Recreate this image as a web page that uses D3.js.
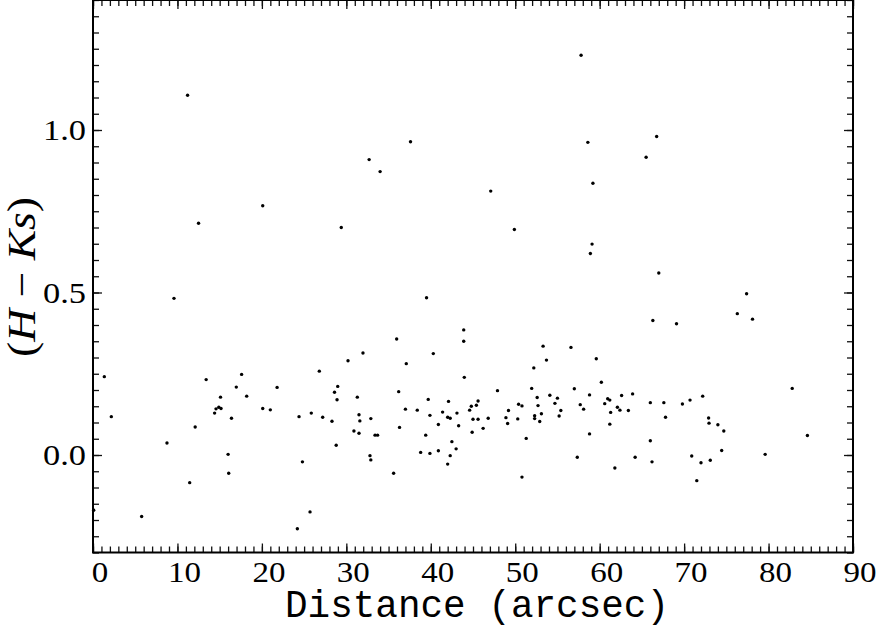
<!DOCTYPE html>
<html>
<head>
<meta charset="utf-8">
<script src="https://cdn.jsdelivr.net/npm/d3@7"></script>
<style>
  body { margin: 0; background: #fff; }
  svg { display: block; }
</style>
</head>
<body>
<script>
// distance from centre (arcsec) and H-Ks colour of each star
var distance = [
  9.59, 1.34, 13.4, 17.6, 16.97, 21.8, 18.2, 15.1, 14.9, 14.57, 15.16, 14.4, 20.1, 21.0, 2.17, 16.4, 12.1, 8.76, 16.0, 16.07, 11.45, 0.08, 5.76,
  39.5, 43.9, 43.9, 35.96, 31.97, 40.3, 30.2, 37.1, 26.8, 43.97, 28.98, 28.6, 28.9, 31.3, 36.2, 39.7, 42.1, 45.6, 45.4, 44.8, 44.6, 37.0, 38.4,
  41.4, 43.1, 39.9, 42.0, 42.3, 45.0, 45.6, 46.8, 24.4, 25.85, 27.2, 28.3, 31.5, 31.6, 32.9, 30.9, 31.5, 33.4, 33.7, 36.3, 40.9, 43.3, 44.9,
  46.2, 39.4, 28.8, 42.5, 43.0, 38.8, 39.9, 40.9, 42.3, 42.0, 32.8, 32.9, 24.8, 35.6, 25.7, 24.2,
  66.3, 69.1, 53.3, 56.6, 53.7, 59.6, 52.2, 60.2, 47.9, 51.95, 57.0, 52.6, 54.1, 55.0, 58.8, 62.6, 63.9, 60.95, 61.2, 60.6, 66.0, 67.6, 69.8,
  50.4, 50.8, 52.7, 54.7, 57.7, 49.2, 55.4, 58.1, 62.1, 62.4, 63.4, 61.3, 53.1, 55.2, 52.3, 48.9, 52.3, 50.3, 49.1, 52.9, 67.8, 61.2, 58.8,
  51.3, 66.0, 57.35, 64.2, 66.2, 61.8, 50.8,
  77.4, 76.3, 78.1, 82.8, 70.7, 72.2, 72.9, 72.95, 74.0, 74.7, 84.6, 74.45, 79.6, 70.9, 73.1, 72.0, 71.5,
  11.2, 37.6, 32.7, 34.0, 47.1, 20.1, 12.5, 29.4, 49.9,
  57.8, 66.75, 58.6, 65.5, 59.2, 59.1, 58.9, 67.0
];
var colourHK = [
  0.482, 0.241, 0.232, 0.248, 0.209, 0.208, 0.181, 0.178, 0.147, 0.142, 0.143, 0.129, 0.143, 0.139, 0.118, 0.113, 0.086, 0.037, 0.002, -0.056, -0.085, -0.170, -0.189,
  0.484, 0.385, 0.350, 0.357, 0.314, 0.312, 0.290, 0.281, 0.258, 0.239, 0.211, 0.193, 0.170, 0.178, 0.195, 0.171, 0.165, 0.166, 0.153, 0.150, 0.138, 0.141, 0.138,
  0.132, 0.129, 0.122, 0.116, 0.113, 0.110, 0.110, 0.113, 0.118, 0.129, 0.116, 0.104, 0.124, 0.105, 0.112, 0.074, 0.067, 0.061, 0.061, 0.085, 0.094, 0.090, 0.070,
  0.082, 0.061, 0.030, 0.041, 0.019, 0.008, 0.005, 0.013, -0.002, -0.028, -0.002, -0.015, -0.021, -0.056, -0.175, -0.227,
  0.414, 0.404, 0.335, 0.331, 0.292, 0.296, 0.268, 0.224, 0.198, 0.205, 0.204, 0.177, 0.184, 0.175, 0.185, 0.183, 0.188, 0.173, 0.169, 0.158, 0.161, 0.161, 0.157,
  0.156, 0.151, 0.152, 0.159, 0.155, 0.137, 0.137, 0.141, 0.147, 0.138, 0.137, 0.131, 0.127, 0.120, 0.121, 0.115, 0.112, 0.111, 0.097, 0.103, 0.116, 0.095, 0.065,
  0.051, 0.044, -0.007, -0.007, -0.021, -0.040, -0.068,
  0.496, 0.435, 0.418, 0.205, 0.169, 0.181, 0.114, 0.098, 0.093, 0.074, 0.060, 0.014, 0.002, -0.003, -0.016, -0.024, -0.079,
  1.107, 0.964, 0.909, 0.872, 0.812, 0.767, 0.713, 0.700, 0.694,
  1.230, 0.980, 0.962, 0.916, 0.836, 0.649, 0.620, 0.560
];

var xMajor = [0, 10, 20, 30, 40, 50, 60, 70, 80, 90];
var yMajor = [0.0, 0.5, 1.0];

var width = 878;
var height = 630;
var plot = {left: 93, right: 853, top: 0, bottom: 552.5};

var svg = d3.select("body").append("svg").attr("width", width).attr("height", height);

var x = d3.scaleLinear().domain([0, 90]).range([plot.left, plot.right]);
var y = d3.scaleLinear().domain([-0.3, 1.4]).range([plot.bottom, plot.top]);

var xMinor = d3.range(0, 91, 1);
var yMinor = d3.range(-0.3, 1.401, 0.05).map(function(v){ return Math.round(v*100)/100; });

function styleAxis(g){
  g.select(".domain").remove();
  g.selectAll(".tick line").attr("stroke", "#111").attr("stroke-width", 1.3);
}

// label width like the wide roman digits of the original
function labelWidth(s){
  return s.split("").reduce(function(w, ch){ return w + (ch === "." ? 10 : 16.5); }, 0);
}

// minor ticks, all four sides, pointing inward
svg.append("g").attr("transform", "translate(0," + plot.bottom + ")")
  .call(d3.axisBottom(x).tickValues(xMinor).tickSize(-6).tickFormat("")).call(styleAxis);
svg.append("g").attr("transform", "translate(0," + plot.top + ")")
  .call(d3.axisTop(x).tickValues(xMinor).tickSize(-6).tickFormat("")).call(styleAxis);
svg.append("g").attr("transform", "translate(" + plot.left + ",0)")
  .call(d3.axisLeft(y).tickValues(yMinor).tickSize(-6).tickFormat("")).call(styleAxis);
svg.append("g").attr("transform", "translate(" + plot.right + ",0)")
  .call(d3.axisRight(y).tickValues(yMinor).tickSize(-6).tickFormat("")).call(styleAxis);

// major ticks
var xAxis = svg.append("g").attr("transform", "translate(0," + plot.bottom + ")")
  .call(d3.axisBottom(x).tickValues(xMajor).tickSize(-9).tickFormat(d3.format("d"))).call(styleAxis);
svg.append("g").attr("transform", "translate(0," + plot.top + ")")
  .call(d3.axisTop(x).tickValues(xMajor).tickSize(-9).tickFormat("")).call(styleAxis);
var yAxis = svg.append("g").attr("transform", "translate(" + plot.left + ",0)")
  .call(d3.axisLeft(y).tickValues(yMajor).tickSize(-9).tickFormat(d3.format(".1f"))).call(styleAxis);
svg.append("g").attr("transform", "translate(" + plot.right + ",0)")
  .call(d3.axisRight(y).tickValues(yMajor).tickSize(-9).tickFormat("")).call(styleAxis);

xAxis.selectAll("text")
  .attr("y", 29.5).attr("dy", null).attr("dx", 6.5)
  .attr("font-family", "Liberation Serif").attr("font-size", 29).attr("fill", "#000")
  .attr("textLength", function(){ return labelWidth(this.textContent); })
  .attr("lengthAdjust", "spacingAndGlyphs");
yAxis.selectAll("text")
  .attr("x", -7).attr("dy", "0.34em")
  .attr("font-family", "Liberation Serif").attr("font-size", 29).attr("fill", "#000")
  .attr("textLength", function(){ return labelWidth(this.textContent); })
  .attr("lengthAdjust", "spacingAndGlyphs");

// frame
svg.append("rect")
  .attr("x", plot.left).attr("y", plot.top)
  .attr("width", plot.right - plot.left).attr("height", plot.bottom - plot.top)
  .attr("fill", "none").attr("stroke", "#000").attr("stroke-width", 2);

// points
var pts = distance.map(function(d, i){ return {d: d, c: colourHK[i]}; });
svg.append("g").selectAll("circle")
  .data(pts)
  .enter().append("circle")
    .attr("cx", function(p){ return x(p.d); })
    .attr("cy", function(p){ return y(p.c); })
    .attr("r", 1.7)
    .attr("fill", "#000");

// axis titles
svg.append("text")
  .attr("x", 477).attr("y", 617)
  .attr("text-anchor", "middle")
  .attr("font-family", "Liberation Mono").attr("font-size", 38)
  .attr("textLength", 384).attr("lengthAdjust", "spacingAndGlyphs")
  .text("Distance (arcsec)");

var yt = svg.append("text")
  .attr("transform", "translate(35,277) rotate(-90)")
  .attr("text-anchor", "middle")
  .attr("font-family", "Liberation Serif").attr("font-size", 40)
  .attr("textLength", 160).attr("lengthAdjust", "spacingAndGlyphs");
yt.append("tspan").text("(");
yt.append("tspan").attr("font-style", "italic").text("H");
yt.append("tspan").text(" \u2212 ");
yt.append("tspan").attr("font-style", "italic").text("Ks");
yt.append("tspan").text(")");
</script>
</body>
</html>
